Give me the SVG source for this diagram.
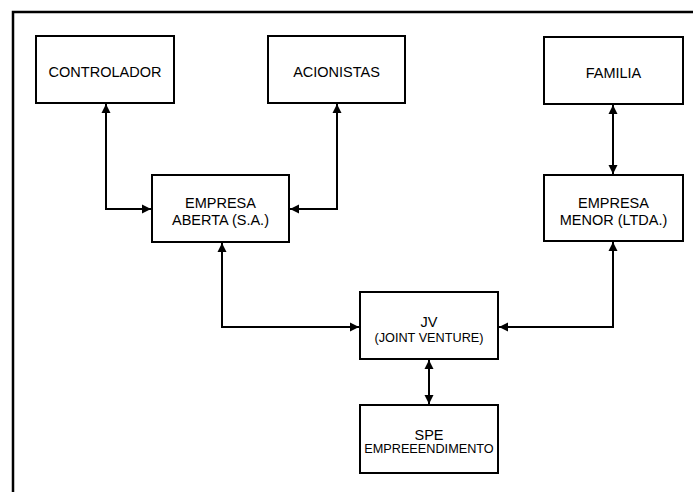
<svg xmlns="http://www.w3.org/2000/svg" width="694" height="492" viewBox="0 0 694 492">
  <style>
    .box { fill: #ffffff; stroke: #000000; stroke-width: 2; }
    .lbl { font-family: "Liberation Sans", Arial, sans-serif; font-size: 14.5px; fill: #000000; text-anchor: middle; }
    .sm { font-size: 12.7px; }
    .wire { fill: none; stroke: #000000; stroke-width: 2; marker-start: url(#arrow); marker-end: url(#arrow); }
    .frame { fill: none; stroke: #000000; stroke-width: 2.5; }
  </style>
  <defs>
    <marker id="arrow" viewBox="0 0 10 10" refX="10" refY="5" markerWidth="9" markerHeight="10" markerUnits="userSpaceOnUse" orient="auto-start-reverse">
      <path d="M0,0 L10,5 L0,10 Z" fill="#000000"/>
    </marker>
  </defs>
  <rect width="694" height="492" fill="#ffffff"/>

  <!-- open frame: left and top edges only -->
  <path class="frame" d="M13,492 V12 H693"/>

  <g id="connectors">
    <path class="wire" d="M106,104 V209 H151"/>
    <path class="wire" d="M337,104 V209 H290"/>
    <path class="wire" d="M613,105 V174"/>
    <path class="wire" d="M222,243 V327 H359"/>
    <path class="wire" d="M613,242 V327 H499"/>
    <path class="wire" d="M429,360 V404"/>
  </g>

  <g id="controlador">
    <rect class="box" x="36" y="36" width="138" height="67"/>
    <text class="lbl" x="105" y="77">CONTROLADOR</text>
  </g>
  <g id="acionistas">
    <rect class="box" x="268" y="36" width="137" height="67"/>
    <text class="lbl" x="336.5" y="77">ACIONISTAS</text>
  </g>
  <g id="familia">
    <rect class="box" x="544" y="37" width="139" height="67"/>
    <text class="lbl" x="613.5" y="78">FAMILIA</text>
  </g>
  <g id="empresa-aberta">
    <rect class="box" x="152" y="175" width="137" height="67"/>
    <text class="lbl" x="220.5" y="208">EMPRESA</text>
    <text class="lbl" x="220.5" y="225">ABERTA (S.A.)</text>
  </g>
  <g id="empresa-menor">
    <rect class="box" x="544" y="175" width="139" height="66"/>
    <text class="lbl" x="613.5" y="208">EMPRESA</text>
    <text class="lbl" x="613.5" y="225">MENOR (LTDA.)</text>
  </g>
  <g id="jv">
    <rect class="box" x="360" y="292" width="138" height="67"/>
    <text class="lbl" x="429" y="327">JV</text>
    <text class="lbl sm" x="429" y="342">(JOINT VENTURE)</text>
  </g>
  <g id="spe">
    <rect class="box" x="360" y="405" width="138" height="68"/>
    <text class="lbl" x="429" y="440">SPE</text>
    <text class="lbl sm" x="429" y="453">EMPREEENDIMENTO</text>
  </g>
</svg>
